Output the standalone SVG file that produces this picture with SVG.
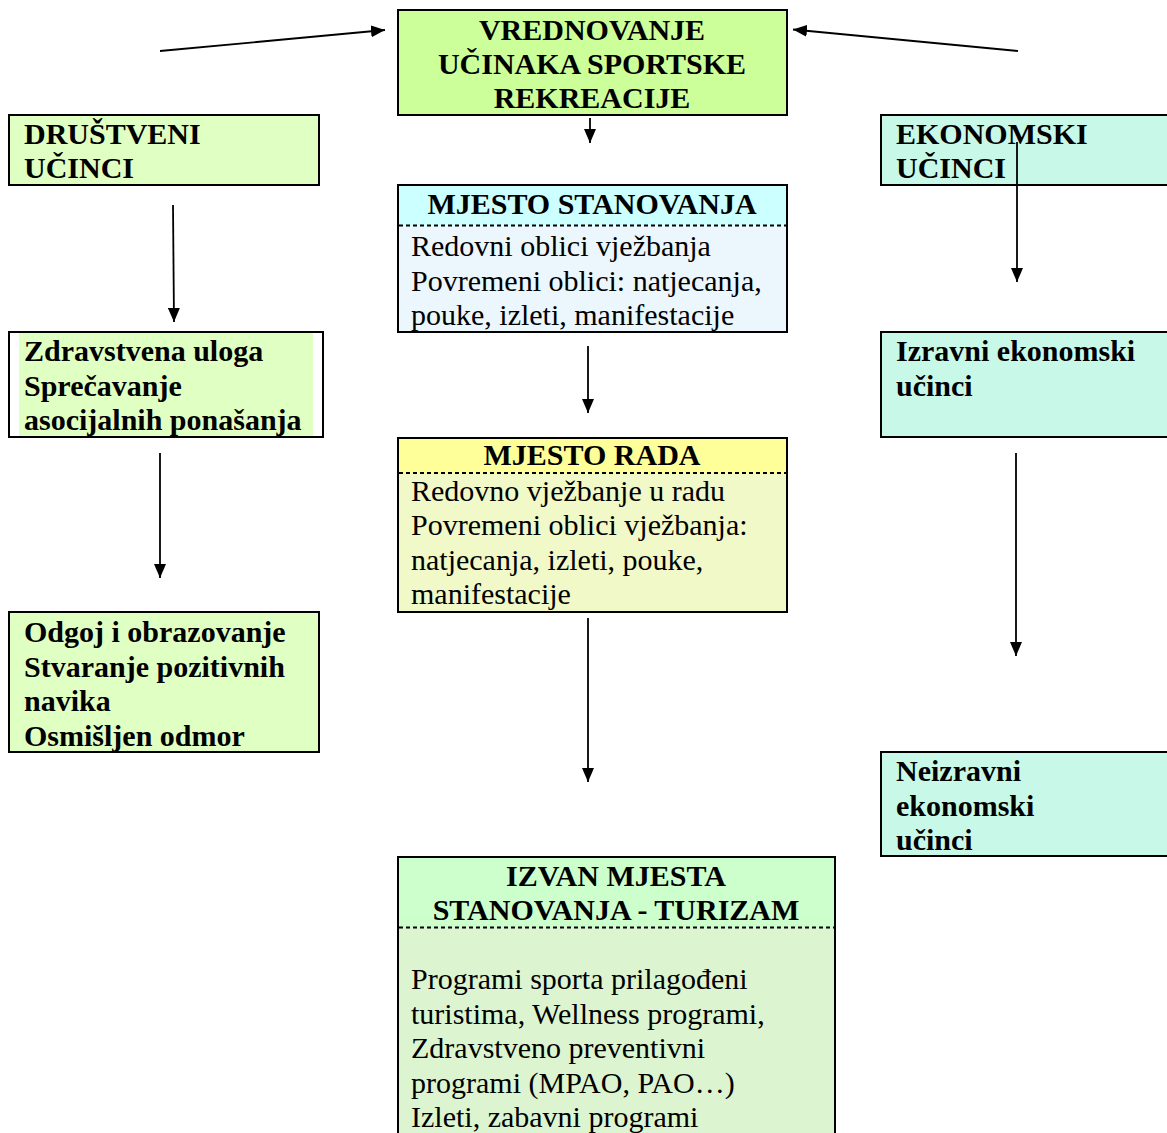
<svg xmlns="http://www.w3.org/2000/svg" width="1167" height="1133" viewBox="0 0 1167 1133">
<defs>
<marker id="ah" viewBox="0 0 14 12" refX="14" refY="6" markerWidth="14" markerHeight="12" markerUnits="userSpaceOnUse" orient="auto">
<path d="M0,0 L14,6 L0,12 z" fill="#000"/>
</marker>
<style>
.box{stroke:#000;stroke-width:2}
.b{font-family:"Liberation Serif","Times New Roman",serif;font-weight:bold;font-size:30px;fill:#000}
.r{font-family:"Liberation Serif","Times New Roman",serif;font-size:30px;fill:#000}
.c{text-anchor:middle}
.dash{stroke:#000;stroke-width:2;stroke-dasharray:4 3}
.con{stroke:#000;stroke-width:1.8;fill:none;marker-end:url(#ah)}
</style>
</defs>
<rect width="1167" height="1133" fill="#fff"/>

<g id="top">
<rect class="box" x="398" y="10" width="389" height="105" fill="#ccff99"/>
<text class="b c" x="592" y="40">VREDNOVANJE</text>
<text class="b c" x="592" y="74">UČINAKA SPORTSKE</text>
<text class="b c" x="592" y="108">REKREACIJE</text>
</g>

<g id="drustveni">
<rect class="box" x="9" y="115" width="310" height="70" fill="#e0ffc2"/>
<text class="b" x="24" y="144">DRUŠTVENI</text>
<text class="b" x="24" y="178">UČINCI</text>
</g>

<g id="ekonomski">
<rect class="box" x="881" y="115" width="300" height="70" fill="#c8f9e8"/>
<text class="b" x="896" y="144">EKONOMSKI</text>
<text class="b" x="896" y="178">UČINCI</text>
</g>

<g id="stanovanje">
<rect x="398" y="185" width="389" height="40" fill="#ccffff"/>
<rect x="398" y="225" width="389" height="107" fill="#ebf7fd"/>
<rect class="box" x="398" y="185" width="389" height="147" fill="none"/>
<line class="dash" x1="399" y1="225.5" x2="786" y2="225.5"/>
<text class="b c" x="592" y="214">MJESTO STANOVANJA</text>
<text class="r" x="411" y="256">Redovni oblici vježbanja</text>
<text class="r" x="411" y="290.5">Povremeni oblici: natjecanja,</text>
<text class="r" x="411" y="325">pouke, izleti, manifestacije</text>
</g>

<g id="zdravstvena">
<rect class="box" x="9" y="332" width="314" height="105" fill="#fff"/>
<rect x="19" y="333" width="294" height="103" fill="#e0ffc2"/>
<text class="b" x="24" y="361">Zdravstvena uloga</text>
<text class="b" x="24" y="395.5">Sprečavanje</text>
<text class="b" x="24" y="430">asocijalnih ponašanja</text>
</g>

<g id="izravni">
<rect class="box" x="881" y="332" width="300" height="105" fill="#c8f9e8"/>
<text class="b" x="896" y="361">Izravni ekonomski</text>
<text class="b" x="896" y="395.5">učinci</text>
</g>

<g id="rad">
<rect x="398" y="438" width="389" height="35" fill="#ffff99"/>
<rect x="398" y="473" width="389" height="139" fill="#f1f9c8"/>
<rect class="box" x="398" y="438" width="389" height="174" fill="none"/>
<line class="dash" x1="399" y1="473" x2="786" y2="473"/>
<text class="b c" x="592" y="465">MJESTO RADA</text>
<text class="r" x="411" y="500.5">Redovno vježbanje u radu</text>
<text class="r" x="411" y="535">Povremeni oblici vježbanja:</text>
<text class="r" x="411" y="569.5">natjecanja, izleti, pouke,</text>
<text class="r" x="411" y="604">manifestacije</text>
</g>

<g id="odgoj">
<rect class="box" x="9" y="612" width="310" height="140" fill="#e0ffc2"/>
<text class="b" x="24" y="642">Odgoj i obrazovanje</text>
<text class="b" x="24" y="676.5">Stvaranje pozitivnih</text>
<text class="b" x="24" y="711">navika</text>
<text class="b" x="24" y="745.5">Osmišljen odmor</text>
</g>

<g id="neizravni">
<rect class="box" x="881" y="752" width="300" height="104" fill="#c8f9e8"/>
<text class="b" x="896" y="781">Neizravni</text>
<text class="b" x="896" y="815.5">ekonomski</text>
<text class="b" x="896" y="850">učinci</text>
</g>

<g id="turizam">
<rect x="398" y="857" width="437" height="70" fill="#ccffcc"/>
<rect x="398" y="927" width="437" height="210" fill="#dcf5d0"/>
<rect class="box" x="398" y="857" width="437" height="290" fill="none"/>
<line class="dash" x1="399" y1="927.5" x2="834" y2="927.5"/>
<text class="b c" x="616" y="886">IZVAN MJESTA</text>
<text class="b c" x="616" y="920">STANOVANJA - TURIZAM</text>
<text class="r" x="411" y="989">Programi sporta prilagođeni</text>
<text class="r" x="411" y="1023.5">turistima, Wellness programi,</text>
<text class="r" x="411" y="1058">Zdravstveno preventivni</text>
<text class="r" x="411" y="1092.5">programi (MPAO, PAO…)</text>
<text class="r" x="411" y="1127">Izleti, zabavni programi</text>
</g>

<g id="connectors">
<line class="con" x1="160" y1="51" x2="385" y2="30"/>
<line class="con" x1="1018" y1="51" x2="793" y2="29.5"/>
<line class="con" x1="590" y1="118" x2="590" y2="143"/>
<line class="con" x1="173" y1="205" x2="174" y2="322"/>
<line class="con" x1="160" y1="453" x2="160" y2="578"/>
<line class="con" x1="588" y1="346" x2="588" y2="413"/>
<line class="con" x1="588" y1="618" x2="588" y2="782"/>
<line class="con" x1="1017" y1="142" x2="1017" y2="282"/>
<line class="con" x1="1016" y1="453" x2="1016" y2="656"/>
</g>
</svg>
